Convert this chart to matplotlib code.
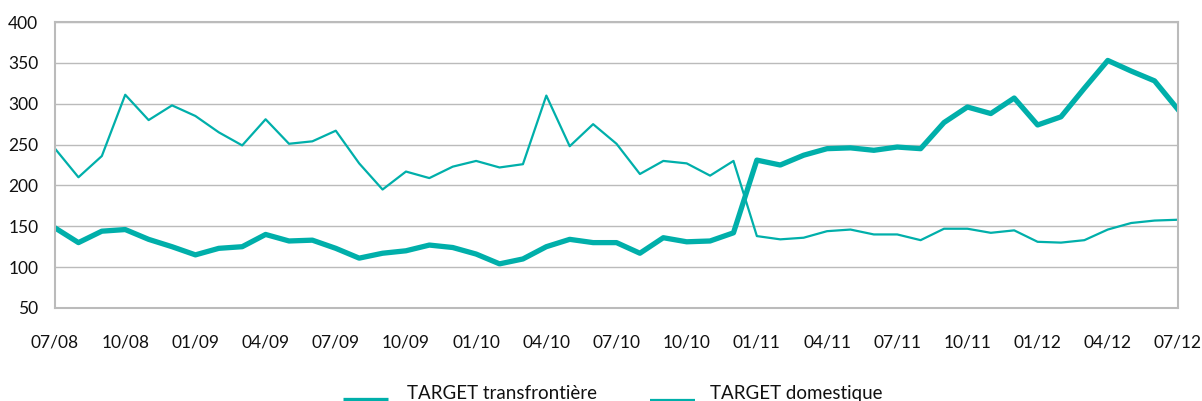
import matplotlib
matplotlib.use("Agg")
import matplotlib.pyplot as plt
from matplotlib.lines import Line2D

# Monthly series, 07/08 -> 07/12
months = ["07/08", "08/08", "09/08", "10/08", "11/08", "12/08",
          "01/09", "02/09", "03/09", "04/09", "05/09", "06/09",
          "07/09", "08/09", "09/09", "10/09", "11/09", "12/09",
          "01/10", "02/10", "03/10", "04/10", "05/10", "06/10",
          "07/10", "08/10", "09/10", "10/10", "11/10", "12/10",
          "01/11", "02/11", "03/11", "04/11", "05/11", "06/11",
          "07/11", "08/11", "09/11", "10/11", "11/11", "12/11",
          "01/12", "02/12", "03/12", "04/12", "05/12", "06/12",
          "07/12"]

transfrontiere = [148, 130, 144, 146, 134, 125, 115, 123, 125, 140,
                  132, 133, 123, 111, 117, 120, 127, 124, 116, 104,
                  110, 125, 134, 130, 130, 117, 136, 131, 132, 142,
                  231, 225, 237, 245, 246, 243, 247, 245, 277, 296,
                  288, 307, 274, 284, 319, 353, 340, 328, 293]

domestique = [245, 210, 236, 311, 280, 298, 285, 265, 249, 281,
              251, 254, 267, 227, 195, 217, 209, 223, 230, 222,
              226, 310, 248, 275, 251, 214, 230, 227, 212, 230,
              138, 134, 136, 144, 146, 140, 140, 133, 147, 147,
              142, 145, 131, 130, 133, 146, 154, 157, 158]

series_names = ["TARGET transfrontière", "TARGET domestique"]
series_lw = [3.8, 1.6]

teal = "#00AFAA"
plt.rcParams["font.family"] = ["Lato", "DejaVu Sans"]

fig = plt.figure(figsize=(12.02, 4.01), dpi=100)
ax = fig.add_axes([0.0458, 0.232, 0.9342, 0.713])

x = list(range(len(months)))
ax.plot(x, transfrontiere, color=teal, lw=series_lw[0])
ax.plot(x, domestique, color=teal, lw=series_lw[1])

ax.set_xlim(0, len(months) - 1)
ax.set_ylim(50, 400)
ax.set_yticks(range(50, 401, 50))
ax.set_xticks(x[::3])
ax.set_xticklabels(months[::3])
ax.tick_params(axis="both", length=0, labelsize=12.5, colors="#111111")
ax.tick_params(axis="x", pad=19)
ax.tick_params(axis="y", pad=12)

ax.grid(axis="y", color="#BBBBBB", lw=1)
ax.set_axisbelow(True)
for s in ax.spines.values():
    s.set_color("#BBBBBB")
    s.set_linewidth(1.5)

# legend drawn by hand along the bottom edge
key_x = [0.2854, 0.5408]
text_x = [0.3386, 0.5907]
for kx, tx, name, lw in zip(key_x, text_x, series_names, series_lw):
    fig.add_artist(Line2D([kx, kx + 0.0375], [0.002, 0.002], color=teal,
                          lw=lw, solid_capstyle="butt",
                          transform=fig.transFigure))
    fig.text(tx, 0.005, name, fontsize=13.5, color="#111111",
             ha="left", va="baseline")

fig.savefig("out.png", dpi=100)
